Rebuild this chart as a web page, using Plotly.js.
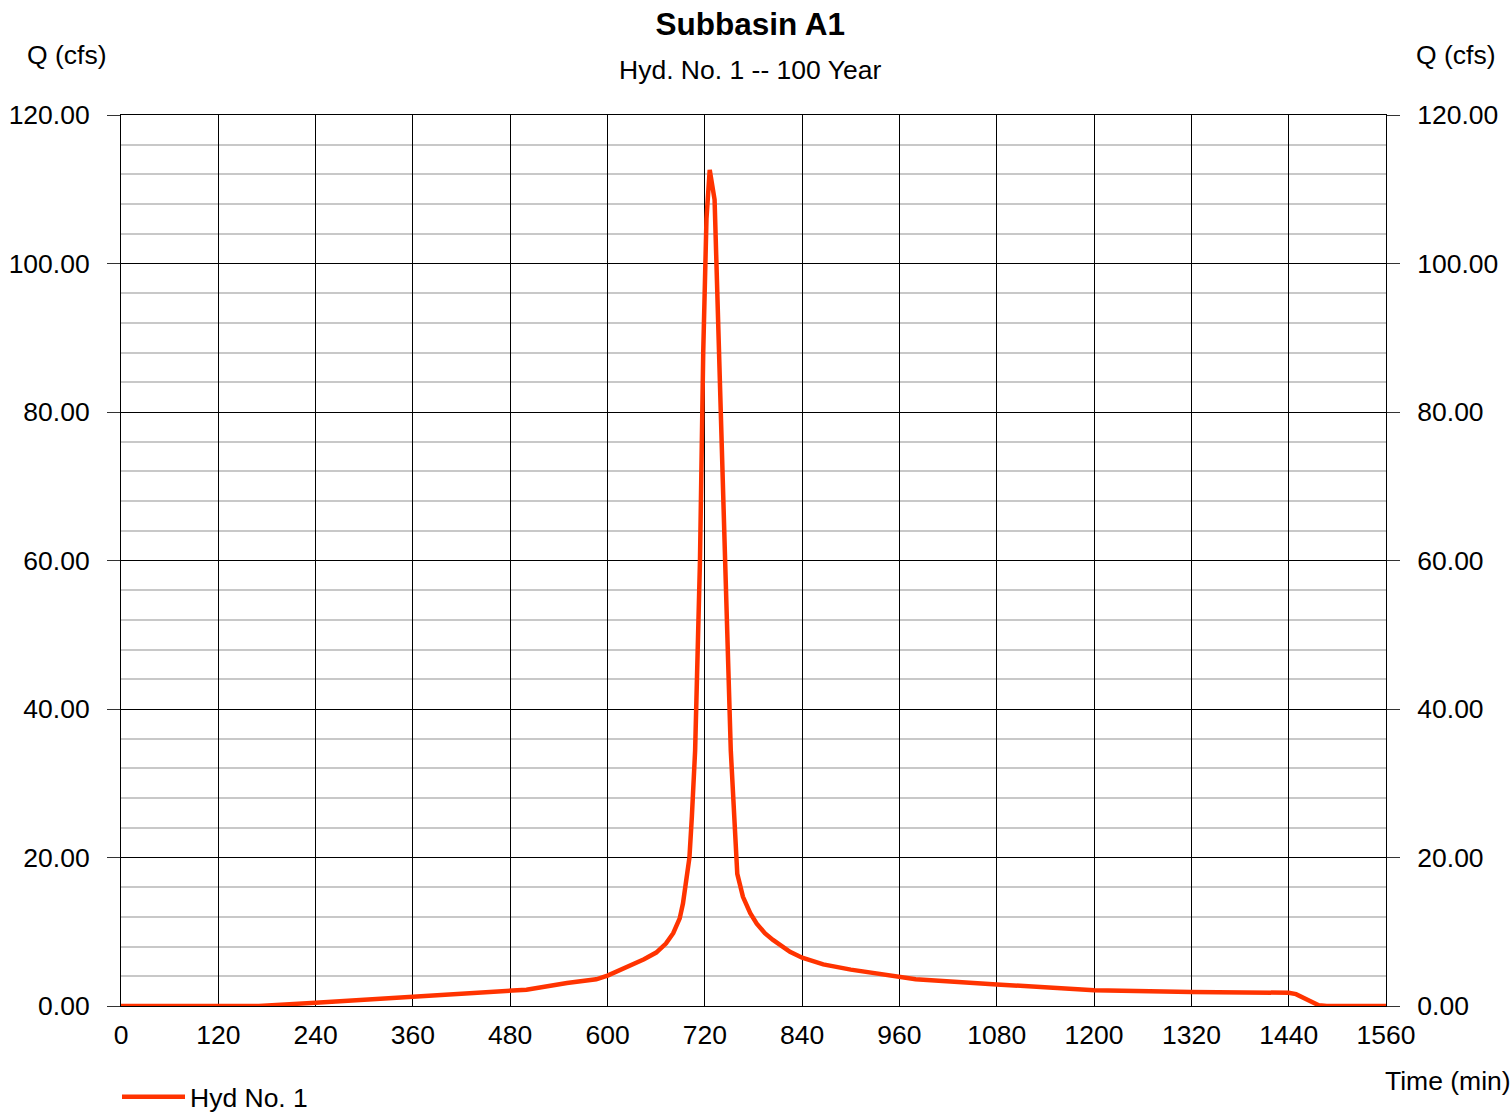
<!DOCTYPE html>
<html>
<head>
<meta charset="utf-8">
<script src="https://cdn.plot.ly/plotly-3.0.1.min.js"></script>
<style>html,body{margin:0;padding:0;background:#fff;}#chart{width:1512px;height:1114px;}</style>
</head>
<body>
<div id="chart"></div>
<script>
const timeMin = [0, 170, 240, 360, 480, 500, 550, 586, 600, 615, 630, 645, 660, 672, 681, 689, 693, 697, 701, 704, 708, 714, 718, 722, 726, 732, 738, 745, 752, 757, 760, 767, 776, 784, 794, 804, 825, 840, 866, 900, 960, 980, 1080, 1200, 1320, 1440, 1449, 1463, 1477, 1487, 1560];
const flowCfs = [0, 0, 0.45, 1.2, 2.0, 2.2, 3.1, 3.6, 4.1, 4.8, 5.5, 6.3, 7.2, 8.4, 9.8, 11.8, 13.8, 16.5, 20, 25.5, 34.4, 60, 88, 106, 112.6, 108.6, 88.3, 60, 34.4, 25.5, 17.8, 14.7, 12.5, 11.1, 9.8, 8.9, 7.3, 6.5, 5.6, 4.9, 3.9, 3.6, 2.9, 2.13, 1.9, 1.78, 1.6, 0.8, 0.1, 0, 0];
const seriesName = "Hyd No. 1";
const chartTitle = "Subbasin A1";
const chartSubtitle = "Hyd. No. 1 -- 100 Year";
const yTitle = "Q (cfs)";
const xTitle = "Time (min)";

const FONT = "Liberation Sans, Arial, Helvetica, sans-serif";
const TXT = 26.5;

const trace = {
  x: timeMin, y: flowCfs, type: 'scatter', mode: 'lines', name: seriesName,
  line: {color: '#ff3300', width: 4.5}, hoverinfo: 'x+y'
};
// same series attached to the right-hand axis so that axis is drawn (invisible)
const traceRight = {
  x: timeMin, y: flowCfs, type: 'scatter', mode: 'lines', yaxis: 'y2', showlegend: false,
  line: {color: 'rgba(0,0,0,0)', width: 0}, hoverinfo: 'skip'
};

const layout = {
  width: 1512, height: 1114,
  paper_bgcolor: '#ffffff', plot_bgcolor: '#ffffff',
  margin: {l: 121, r: 126, t: 115, b: 108, pad: 0},
  font: {family: FONT, size: TXT, color: '#000'},
  title: {text: '<b>' + chartTitle + '</b>', font: {family: FONT, size: 31.5, color: '#000'},
          x: 0.4975, xanchor: 'center', xref: 'paper', y: 1 - 24/1114, yanchor: 'middle', yref: 'container'},
  showlegend: true,
  legend: {orientation: 'h', x: -4/1265, xanchor: 'left', y: 1 - 1097/1114, yanchor: 'middle',
           xref: 'paper', yref: 'container', font: {family: FONT, size: TXT, color: '#000'},
           itemwidth: 63, bgcolor: 'rgba(0,0,0,0)'},
  xaxis: {
    range: [0, 1560], dtick: 120, tick0: 0, showgrid: true, gridcolor: '#000', gridwidth: 1,
    zeroline: false, showline: true, mirror: true, linecolor: '#000', linewidth: 1, ticks: '', ticklabelstandoff: 5,
    tickfont: {family: FONT, size: TXT, color: '#000'}, fixedrange: true
  },
  yaxis: {
    range: [0, 120], dtick: 20, tick0: 0, tickformat: '.2f', showgrid: true, gridcolor: '#000', gridwidth: 1,
    minor: {dtick: 4, tick0: 0, showgrid: true, gridcolor: '#c8c8c8', gridwidth: 2, ticks: ''},
    zeroline: false, showline: true, mirror: true, linecolor: '#000', linewidth: 1,
    ticks: 'outside', ticklen: 13, tickcolor: '#333', tickwidth: 1,
    ticklabelstandoff: 12,
    tickfont: {family: FONT, size: TXT, color: '#000'}, fixedrange: true
  },
  yaxis2: {
    overlaying: 'y', side: 'right', range: [0, 120], dtick: 20, tick0: 0, tickformat: '.2f',
    showgrid: false, zeroline: false, showline: false, ticks: 'outside', ticklen: 13, tickcolor: '#333', tickwidth: 1,
    ticklabelstandoff: 12,
    tickfont: {family: FONT, size: TXT, color: '#000'}, fixedrange: true
  },
  annotations: [
    {text: chartSubtitle, xref: 'paper', yref: 'paper', x: 0.4975, y: 1 + (115 - 70)/891, xanchor: 'center', yanchor: 'middle', showarrow: false, font: {family: FONT, size: TXT, color: '#000'}},
    {text: yTitle, xref: 'paper', yref: 'paper', x: (67 - 121)/1265, y: 1 + (115 - 55)/891, xanchor: 'center', yanchor: 'middle', showarrow: false, font: {family: FONT, size: TXT, color: '#000'}},
    {text: yTitle, xref: 'paper', yref: 'paper', x: (1456 - 121)/1265, y: 1 + (115 - 55)/891, xanchor: 'center', yanchor: 'middle', showarrow: false, font: {family: FONT, size: TXT, color: '#000'}},
    {text: xTitle, xref: 'paper', yref: 'paper', x: (1448 - 121)/1265, y: -(1081 - 1006)/891, xanchor: 'center', yanchor: 'middle', showarrow: false, font: {family: FONT, size: TXT, color: '#000'}}
  ]
};

Plotly.newPlot('chart', [trace, traceRight], layout, {displayModeBar: false, staticPlot: true});
</script>
</body>
</html>
